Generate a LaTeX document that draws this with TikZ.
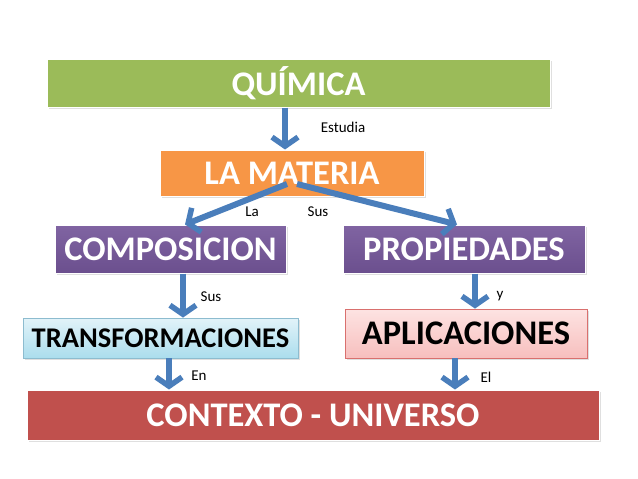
\documentclass[tikz,border=0pt]{standalone}
\usepackage{fontspec}
\setmainfont{Carlito}
\usetikzlibrary{arrows.meta,shadows}
\definecolor{qgreen}{HTML}{9BBB59}
\definecolor{morange}{HTML}{F79646}
\definecolor{ppurple}{HTML}{8064A2}
\definecolor{ppurpledark}{HTML}{6B4F8E}
\definecolor{cred}{HTML}{C0504D}
\definecolor{arrblue}{HTML}{4A7EBB}
\definecolor{tcyantop}{HTML}{E2F3F9}
\definecolor{tcyanbot}{HTML}{ABDDED}
\definecolor{tcyanline}{HTML}{8DBCCF}
\definecolor{apinktop}{HTML}{FDE3E2}
\definecolor{apinkbot}{HTML}{F7BFBE}
\definecolor{apinkline}{HTML}{D9706E}
\tikzset{
  boxbase/.style={rectangle, inner sep=0pt, font=\fontsize{34.5}{34.5}\selectfont\bfseries,
    drop shadow={opacity=0.25, shadow xshift=1.5pt, shadow yshift=-2pt}},
  darkbox/.style={boxbase, text=white, draw=white, line width=1pt},
  lightbox/.style={boxbase, text=black, line width=0.8pt},
  arr/.style={draw=arrblue, line width=6pt,
    -{Straight Barb[length=9pt, width=26pt, line width=5.5pt]}},
  lbl/.style={font=\fontsize{15}{15}\selectfont, text=black, inner sep=0pt}
}
\begin{document}
\begin{tikzpicture}[x=1pt,y=-1pt]
\useasboundingbox (0,0) rectangle (638,479);
\node[darkbox, fill=qgreen, minimum width=503pt, minimum height=48pt] (quimica) at (298.5,83) {QUÍMICA};
\node[darkbox, fill=morange, minimum width=264pt, minimum height=46pt] (materia) at (292,173) {LA MATERIA};
\node[darkbox, top color=ppurple, bottom color=ppurpledark, minimum width=231pt, minimum height=48pt] (compos) at (170.5,249) {COMPOSICION};
\node[darkbox, top color=ppurple, bottom color=ppurpledark, minimum width=242pt, minimum height=48pt] (propie) at (464,249) {PROPIEDADES};
\node[lightbox, top color=tcyantop, bottom color=tcyanbot, draw=tcyanline, minimum width=275pt, minimum height=40pt, font=\fontsize{28.5}{28.5}\selectfont\bfseries] (transf) at (160.5,338) {TRANSFORMACIONES};
\node[lightbox, top color=apinktop, bottom color=apinkbot, draw=apinkline, minimum width=242pt, minimum height=49pt] (aplic) at (466,333.5) {APLICACIONES};
\node[darkbox, fill=cred, minimum width=572pt, minimum height=50pt] (contexto) at (313,415) {CONTEXTO - UNIVERSO};

\coordinate (mL) at (287,184);
\coordinate (mR) at (297,184);
\draw[arr] (quimica.south -| 285,0) -- (materia.north -| 285,0);
\draw[arr] (mL) -- (compos.north -| 185,0);
\draw[arr] (mR) -- (propie.north -| 457,0);
\draw[arr] (compos.south -| 183,0) -- (transf.north -| 183,0);
\draw[arr] (propie.south -| 475,0) -- (aplic.north -| 475,0);
\draw[arr] (transf.south -| 169,0) -- (contexto.north -| 169,0);
\draw[arr] (aplic.south -| 455,0) -- (contexto.north -| 455,0);

\node[lbl] (l1) at (343,127) {Estudia};
\node[lbl] (l2) at (252,212) {La};
\node[lbl] (l3) at (318,212) {Sus};
\node[lbl] (l4) at (211,297) {Sus};
\node[lbl] (l5) at (500,296) {y};
\node[lbl] (l6) at (199,376) {En};
\node[lbl] (l7) at (486,377) {El};
\end{tikzpicture}
\end{document}
